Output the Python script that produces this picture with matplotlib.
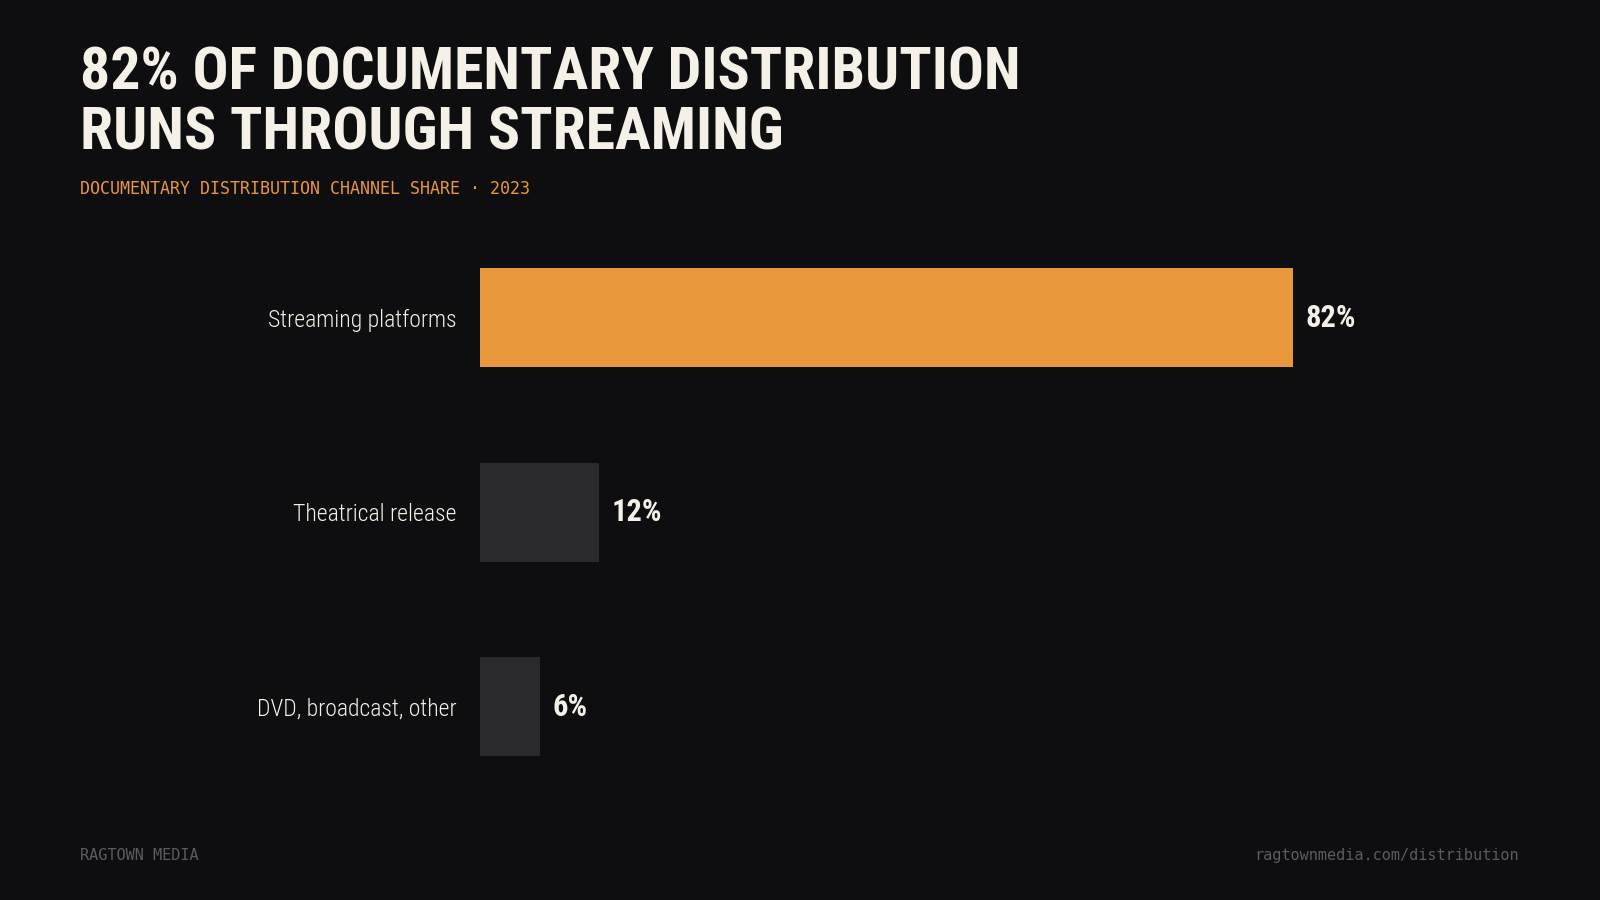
import matplotlib.pyplot as plt

# data
channels = ['Streaming platforms', 'Theatrical release', 'DVD, broadcast, other']
shares = [82, 12, 6]
value_labels = ['82%', '12%', '6%']

bg = '#0e0e10'
orange = '#e8973b'
dark = '#2a292e'
cream = '#f5f0e8'
grey = '#5c5c60'

cond = ['Roboto Condensed', 'Liberation Sans Narrow', 'Noto Sans', 'DejaVu Sans']
mono = ['DejaVu Sans Mono']

W, H = 1600, 900
fig = plt.figure(figsize=(16, 9), dpi=100, facecolor=bg)

def fx(px):
    return px / W

def fy(py):
    return 1 - py / H

# axes placed so bars sit where they do in the reference
ax = fig.add_axes([fx(480), fy(804), 992 / W, 583.5 / H])
ax.set_facecolor(bg)
ax.set_xlim(0, 100)
ax.set_ylim(2.5, -0.5)

colors = [orange] + [dark] * (len(shares) - 1)
ax.barh(range(len(shares)), shares, height=0.51, color=colors)

for i, (v, lab) in enumerate(zip(shares, value_labels)):
    ax.annotate(lab, (v, i), xytext=(9, 0), textcoords='offset points',
                va='center', ha='left', color=cream, fontsize=22,
                fontweight='bold', family=cond, fontstretch='condensed')

ax.set_yticks(range(len(channels)))
ax.set_yticklabels(channels, family=cond, fontsize=17, color=cream,
                   fontweight='light', fontstretch='condensed')
ax.tick_params(axis='y', length=0, pad=17)
ax.set_xticks([])
for s in ax.spines.values():
    s.set_visible(False)

# titles
fig.text(fx(80), fy(90), '82% OF DOCUMENTARY DISTRIBUTION', family=cond,
         fontsize=43, fontweight='bold', color=cream, va='baseline',
         fontstretch='condensed')
fig.text(fx(80), fy(149), 'RUNS THROUGH STREAMING', family=cond,
         fontsize=43, fontweight='bold', color=cream, va='baseline',
         fontstretch='condensed')
fig.text(fx(80), fy(194), 'DOCUMENTARY DISTRIBUTION CHANNEL SHARE \u00b7 2023',
         family=mono, fontsize=12, color=orange, va='baseline')

# footer
fig.text(fx(80), fy(860), 'RAGTOWN MEDIA', family=mono, fontsize=11,
         color=grey, va='baseline')
fig.text(fx(1519), fy(860), 'ragtownmedia.com/distribution', family=mono,
         fontsize=11, color=grey, va='baseline', ha='right')

fig.savefig('out.png', dpi=100, facecolor=bg)
